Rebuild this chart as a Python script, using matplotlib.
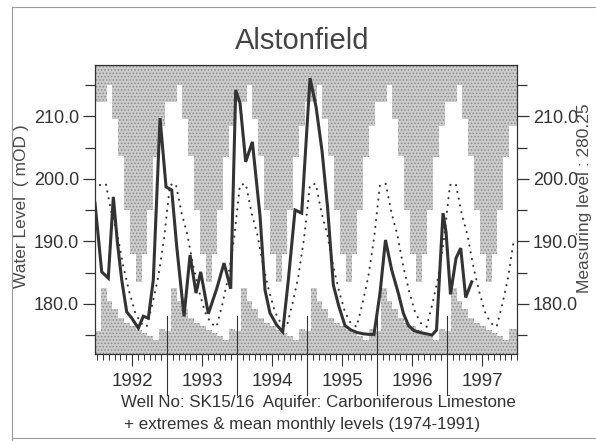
import numpy as np
import matplotlib
matplotlib.use("Agg")
import matplotlib.pyplot as plt
from matplotlib.lines import Line2D

plt.rcParams['font.family'] = ['Liberation Sans', 'DejaVu Sans']
plt.rcParams['hatch.linewidth'] = 0.7

# ---------------- data ----------------
title = "Alstonfield"
years = [1992, 1993, 1994, 1995, 1996, 1997]
year_labels = ["1992", "1993", "1994", "1995", "1996", "1997"]

# monthly extremes & mean (1974-1991), Jan..Dec
month_max = [212.3, 212.3, 215.0, 209.5, 203.7, 195.0, 188.0, 183.5, 188.0, 195.0, 203.5, 208.5]
month_min = [175.6, 182.5, 180.5, 179.2, 177.8, 177.0, 176.4, 175.8, 175.3, 174.8, 174.2, 175.9]
month_mean = [199.0, 199.2, 194.5, 191.0, 186.0, 182.0, 178.7, 176.9, 176.3, 180.0, 184.3, 190.5]

# observed water levels (decimal year, mOD)
level_t = [1991.971, 1992.067, 1992.161, 1992.233, 1992.290, 1992.353, 1992.424, 1992.496,
           1992.590, 1992.661, 1992.733, 1992.804, 1992.900, 1992.986, 1993.067,
           1993.139, 1993.243, 1993.329, 1993.414, 1993.481, 1993.590, 1993.710, 1993.814,
           1993.910, 1993.981,
           1994.043, 1994.124, 1994.219, 1994.329, 1994.400, 1994.471, 1994.567, 1994.653,
           1994.733, 1994.829, 1994.924, 1995.043,
           1995.129, 1995.214, 1995.293, 1995.376, 1995.457, 1995.543, 1995.629, 1995.714,
           1995.800, 1995.886, 1995.957,
           1996.043, 1996.121, 1996.210, 1996.304, 1996.376, 1996.450, 1996.529, 1996.614,
           1996.700, 1996.786, 1996.850, 1996.943, 1996.986,
           1997.050, 1997.129, 1997.196, 1997.267, 1997.353]
level_v = [196.1, 185.1, 184.1, 197.1, 189.9, 183.8, 178.7, 177.7, 176.1, 178.0, 177.7, 183.8,
           209.7, 198.7, 198.2,
           189.1, 178.0, 187.8, 181.7, 185.1, 178.4, 182.4, 186.5, 182.4, 214.2,
           212.1, 202.7, 205.9, 194.0, 182.2, 178.5, 176.6, 175.5, 183.8, 195.0, 194.5, 216.1,
           211.5, 204.5, 195.5, 183.0, 179.5, 176.5, 175.8, 175.4, 175.2, 175.1, 175.1,
           181.7, 190.2, 185.4, 181.7, 178.5, 176.5, 175.7, 175.4, 175.2, 175.0, 175.8, 194.5, 191.5,
           181.5, 187.3, 188.9, 181.0, 183.5]

y_major = [180, 190, 200, 210]
y_minor = [175, 185, 195, 205, 215]

# ---------------- figure ----------------
W, H = 596, 441
fig = plt.figure(figsize=(W / 100, H / 100), dpi=100)
ax = fig.add_axes([95 / W, 1 - 354 / H, 422 / W, 289 / H])
ymin, ymax = 171.96, 218.2
xmin, xmax = 1991.971, 1998.0
ax.set_xlim(xmin, xmax)
ax.set_ylim(ymin, ymax)

ink = '#333333'
stip_face = '#cccccc'
stip_hatch = '#8a8a8a'

# monthly step edges
nyr = len(years)
edges = np.array([y + m / 12 for y in years for m in range(12)]) - 0.03
edges = np.append(edges, xmax + 0.05)
mx = np.array(month_max * nyr + [month_max[0]])
mn = np.array(month_min * nyr + [month_min[0]])

ax.fill_between(edges, mx, ymax + 5, step='post', facecolor=stip_face,
                edgecolor=stip_hatch, hatch='.....', linewidth=0)
ax.fill_between(edges, ymin - 5, mn, step='post', facecolor=stip_face,
                edgecolor=stip_hatch, hatch='.....', linewidth=0)

# mean monthly levels (dotted)
mid_t = np.array([y + (m + 0.5) / 12 for y in years for m in range(12)])
ax.plot(mid_t, month_mean * nyr, color=ink, lw=1.5, linestyle=(0, (0.1, 3.2)),
        dash_capstyle='round')

# observed levels
ax.plot(level_t, level_v, color=ink, lw=2.2, solid_joinstyle='miter')

# year separators
for y in years[1:]:
    ax.axvline(y, ymin=-0.142, ymax=(178 - ymin) / (ymax - ymin), color=ink,
               lw=0.8, clip_on=False)

# ticks
ax.set_xticks([y + 0.5 for y in years])
ax.set_xticklabels(year_labels)
ax.set_xticks([y + m / 12 for y in years for m in range(12)] + [1998], minor=True)
ax.tick_params(axis='x', which='major', length=8.6, width=0.8, color=ink,
               labelsize=13.5, labelcolor=ink, pad=5)
ax.tick_params(axis='x', which='minor', length=4.3, width=0.7, color=ink)

ax.set_yticks(y_major)
ax.set_yticklabels([f"{v:.1f}" for v in y_major])
ax.set_yticks(y_minor, minor=True)
ax.tick_params(axis='y', which='both', left=True, right=True, labelleft=True,
               labelright=True, color=ink, labelcolor=ink, labelsize=13, width=0.9)
ax.tick_params(axis='y', which='major', length=8.6, pad=3)
ax.tick_params(axis='y', which='minor', length=7.5)

for s in ax.spines.values():
    s.set_color(ink)
    s.set_linewidth(0.9)

# texts
fig.text(302 / W, 1 - 41 / H, title, ha='center', va='center', fontsize=21, color='#444444')
fig.text(22 / W, 1 - 206 / H, "Water Level  ( mOD )", rotation=90, ha='center',
         va='center', fontsize=12.5, color='#4a4a4a')
fig.text(585 / W, 1 - 198 / H, "Measuring level : 280.25", rotation=90, ha='center',
         va='center', fontsize=12.5, color='#4a4a4a')
fig.text(318 / W, 1 - 402 / H, "Well No: SK15/16  Aquifer: Carboniferous Limestone",
         ha='center', va='center', fontsize=12.2, color=ink)
fig.text(302 / W, 1 - 425 / H, "+ extremes & mean monthly levels (1974-1991)",
         ha='center', va='center', fontsize=12.2, color=ink)

# page border
fig.add_artist(Line2D([12 / W, 12 / W], [0, 1 - 7 / H], transform=fig.transFigure,
                      color='#9a9a9a', lw=0.8))
fig.add_artist(Line2D([12 / W, 1], [1 - 7 / H, 1 - 7 / H], transform=fig.transFigure,
                      color='#9a9a9a', lw=0.8))
fig.add_artist(Line2D([12 / W, 1], [1 - 438 / H, 1 - 438 / H], transform=fig.transFigure,
                      color='#9a9a9a', lw=0.8))

fig.savefig("out.png", dpi=100, facecolor='white')
